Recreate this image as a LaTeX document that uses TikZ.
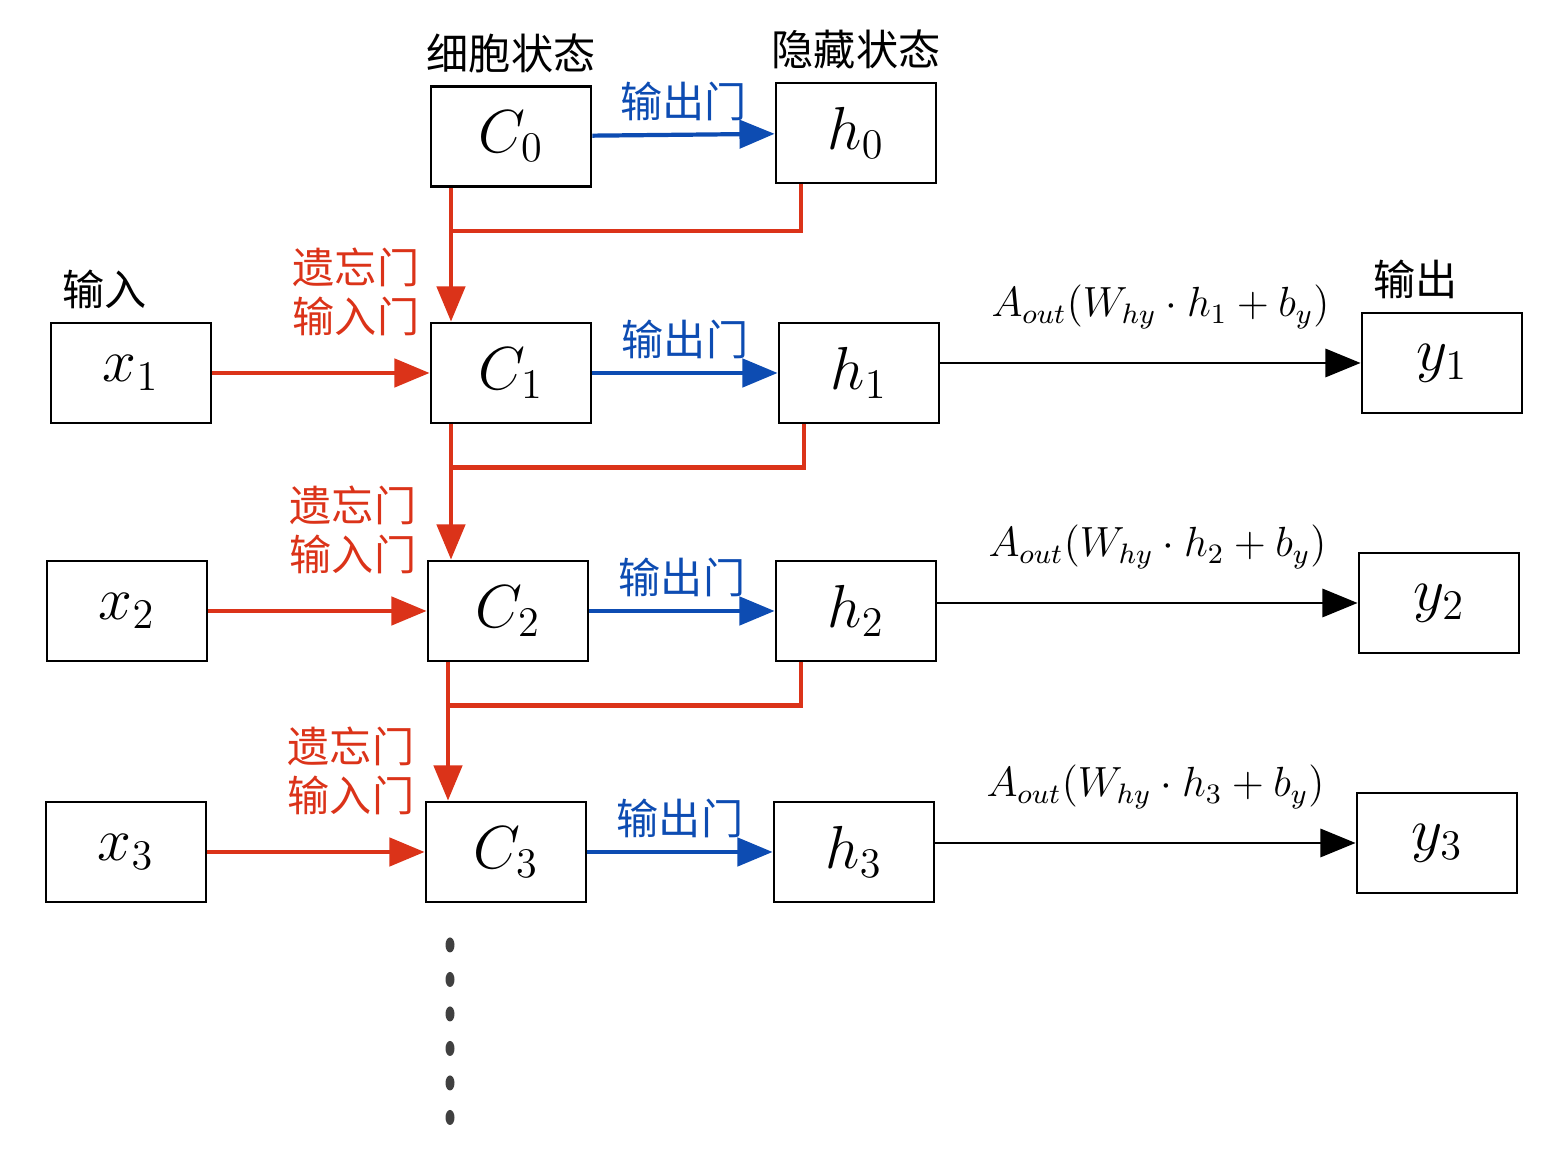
\documentclass[tikz,border=0pt]{standalone}
\usepackage{fontspec}
\newfontfamily\cjk{Noto Sans CJK SC}
\usetikzlibrary{arrows.meta}
\definecolor{gatered}{rgb}{.86,.2,.1}
\definecolor{gateblue}{rgb}{.05,.3,.7}
\tikzset{
  cell/.style={draw, thick, minimum width=1.6cm, minimum height=1cm, font=\LARGE},
  redline/.style={gatered, very thick},
  redarrow/.style={redline, -{Triangle[length=10pt,width=8pt]}},
  bluearrow/.style={gateblue, very thick, -{Triangle[length=10pt,width=8pt]}},
  outarrow/.style={thick, -{Triangle[length=10pt,width=8pt]}},
  lbl/.style={font=\cjk\large},
}
\begin{document}
\begin{tikzpicture}[x=1cm,y=-1cm]
\useasboundingbox (0,0) rectangle (15.43,11.5);
% first row
\node[cell] (c0) at (5.11,1.365) {$C_0$};
\node[cell] (h0) at (8.56,1.33) {$h_0$};
\node[lbl, above] at (c0.north) {细胞状态};
\node[lbl, above] at (h0.north) {隐藏状态};
\draw[bluearrow] (c0) -- node[lbl, above, gateblue] {输出门} (h0);
% rows
\foreach \i/\xx/\cx/\hx/\yx/\yy/\ry in {1/1.31/5.11/8.59/14.42/3.73/3.63,
                                       2/1.27/5.08/8.56/14.39/6.11/6.03,
                                       3/1.26/5.06/8.54/14.37/8.52/8.43}{
  \node[cell] (x\i) at (\xx,\yy) {$x_\i$};
  \node[cell] (c\i) at (\cx,\yy) {$C_\i$};
  \node[cell] (h\i) at (\hx,\yy) {$h_\i$};
  \node[cell] (y\i) at (\yx,\ry) {$y_\i$};
  \draw[redarrow] (x\i) -- (c\i);
  \draw[bluearrow] (c\i) -- node[lbl, above, gateblue] {输出门} (h\i);
  \draw[outarrow] (h\i.east |- y\i) -- node[above=6pt, xshift=0.1cm, font=\large] {$A_{out}(W_{hy}\cdot h_\i + b_y)$} (y\i);
}
\node[lbl, above right] at (x1.north west) {输入};
\node[lbl, above right] at (y1.north west) {输出};
% recurrent links
\foreach \p/\n in {0/1,1/2,2/3}{
  \coordinate (s\p) at ([xshift=-0.6cm]c\p.south);
  \coordinate (j\n) at ([yshift=-0.43cm]s\p);
  \draw[redline] ([xshift=-0.55cm]h\p.south) |- (j\n);
  \draw[redarrow] (s\p) -- (s\p |- c\n.north);
  \node[lbl, gatered, align=left] at ([xshift=-1.55cm,yshift=0.3cm]c\n.north) {遗忘门\\[0pt]输入门};
}
% more steps
\foreach \k in {0,...,5}
  \fill[black!75] (4.5,9.45+0.345*\k) ellipse (0.045 and 0.075);
\end{tikzpicture}
\end{document}
